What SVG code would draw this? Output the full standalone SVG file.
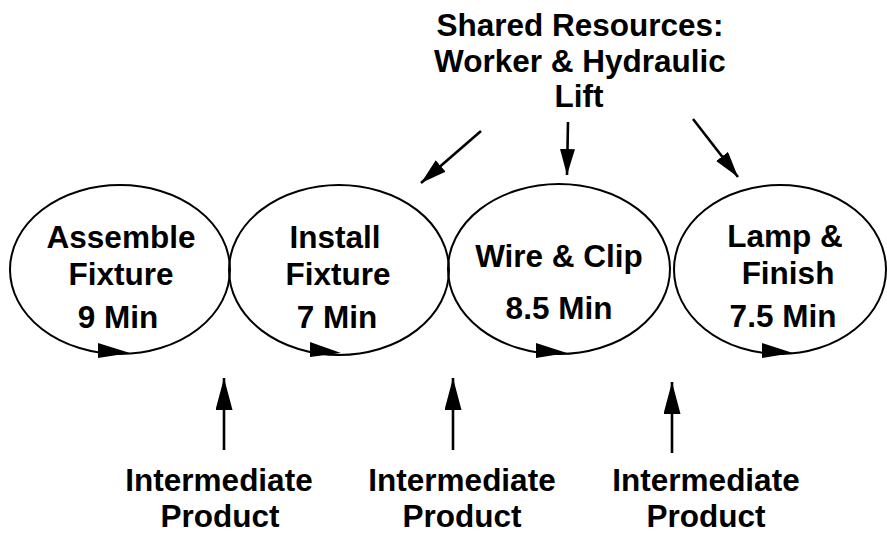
<svg xmlns="http://www.w3.org/2000/svg" width="887" height="533" viewBox="0 0 887 533">
  <style>
    .lbl { font-family: "Liberation Sans", Arial, Helvetica, sans-serif; font-weight: bold; font-size: 31.5px; fill: #000; text-anchor: middle; }
    .ring { fill: none; stroke: #000; stroke-width: 2; }
    .loop-head { fill: #000; stroke: none; }
    .flow { stroke: #000; stroke-width: 2.6; fill: none; }
  </style>
  <defs>
    <marker id="head-lg" viewBox="0 0 32 17" refX="32" refY="8.5" markerWidth="32" markerHeight="17" markerUnits="userSpaceOnUse" orient="auto">
      <path d="M0,0 L32,8.5 L0,17 Z" fill="#000"/>
    </marker>
    <marker id="head-sm" viewBox="0 0 26 15" refX="26" refY="7.5" markerWidth="26" markerHeight="15" markerUnits="userSpaceOnUse" orient="auto">
      <path d="M0,0 L26,7.5 L0,15 Z" fill="#000"/>
    </marker>
  </defs>

  <rect width="887" height="533" fill="#fff"/>

  <!-- shared resource label -->
  <g id="shared-resources">
    <text class="lbl" x="580" y="36">Shared Resources:</text>
    <text class="lbl" x="580" y="72">Worker &amp; Hydraulic</text>
    <text class="lbl" x="579" y="107">Lift</text>
  </g>

  <!-- process stations -->
  <g id="assemble-fixture">
    <ellipse class="ring" cx="120" cy="269.5" rx="110" ry="84.5"/>
    <polygon class="loop-head" points="98,343 130,353 98,358"/>
    <text class="lbl" x="121" y="248">Assemble</text>
    <text class="lbl" x="121" y="285">Fixture</text>
    <text class="lbl" x="118" y="328">9 Min</text>
  </g>

  <g id="install-fixture">
    <ellipse class="ring" cx="339" cy="270" rx="110" ry="85"/>
    <polygon class="loop-head" points="310,342 341,353 310,357"/>
    <text class="lbl" x="335" y="248">Install</text>
    <text class="lbl" x="338" y="285">Fixture</text>
    <text class="lbl" x="337" y="328">7 Min</text>
  </g>

  <g id="wire-clip">
    <ellipse class="ring" cx="559" cy="269" rx="111" ry="85"/>
    <polygon class="loop-head" points="536,343 567,353 536,358"/>
    <text class="lbl" x="559" y="267">Wire &amp; Clip</text>
    <text class="lbl" x="559" y="319">8.5 Min</text>
  </g>

  <g id="lamp-finish">
    <ellipse class="ring" cx="780" cy="269.5" rx="106" ry="84.5"/>
    <polygon class="loop-head" points="762,343 793,353 762,358"/>
    <text class="lbl" x="785" y="247">Lamp &amp;</text>
    <text class="lbl" x="788" y="284">Finish</text>
    <text class="lbl" x="783" y="327">7.5 Min</text>
  </g>

  <!-- intermediate product sources -->
  <g id="product-1">
    <text class="lbl" x="219" y="491">Intermediate</text>
    <text class="lbl" x="220" y="527">Product</text>
  </g>
  <g id="product-2">
    <text class="lbl" x="462" y="491">Intermediate</text>
    <text class="lbl" x="462" y="527">Product</text>
  </g>
  <g id="product-3">
    <text class="lbl" x="706" y="491">Intermediate</text>
    <text class="lbl" x="706" y="527">Product</text>
  </g>

  <!-- connectors -->
  <g id="connectors">
    <line class="flow" x1="481" y1="131" x2="421" y2="183" marker-end="url(#head-sm)"/>
    <line class="flow" x1="568" y1="122" x2="567" y2="175" marker-end="url(#head-sm)"/>
    <line class="flow" x1="693" y1="119" x2="738" y2="177" marker-end="url(#head-sm)"/>
    <line class="flow" x1="224" y1="450" x2="224" y2="378" marker-end="url(#head-lg)"/>
    <line class="flow" x1="453" y1="450" x2="453" y2="378" marker-end="url(#head-lg)"/>
    <line class="flow" x1="672" y1="453" x2="672" y2="382" marker-end="url(#head-lg)"/>
  </g>
</svg>
